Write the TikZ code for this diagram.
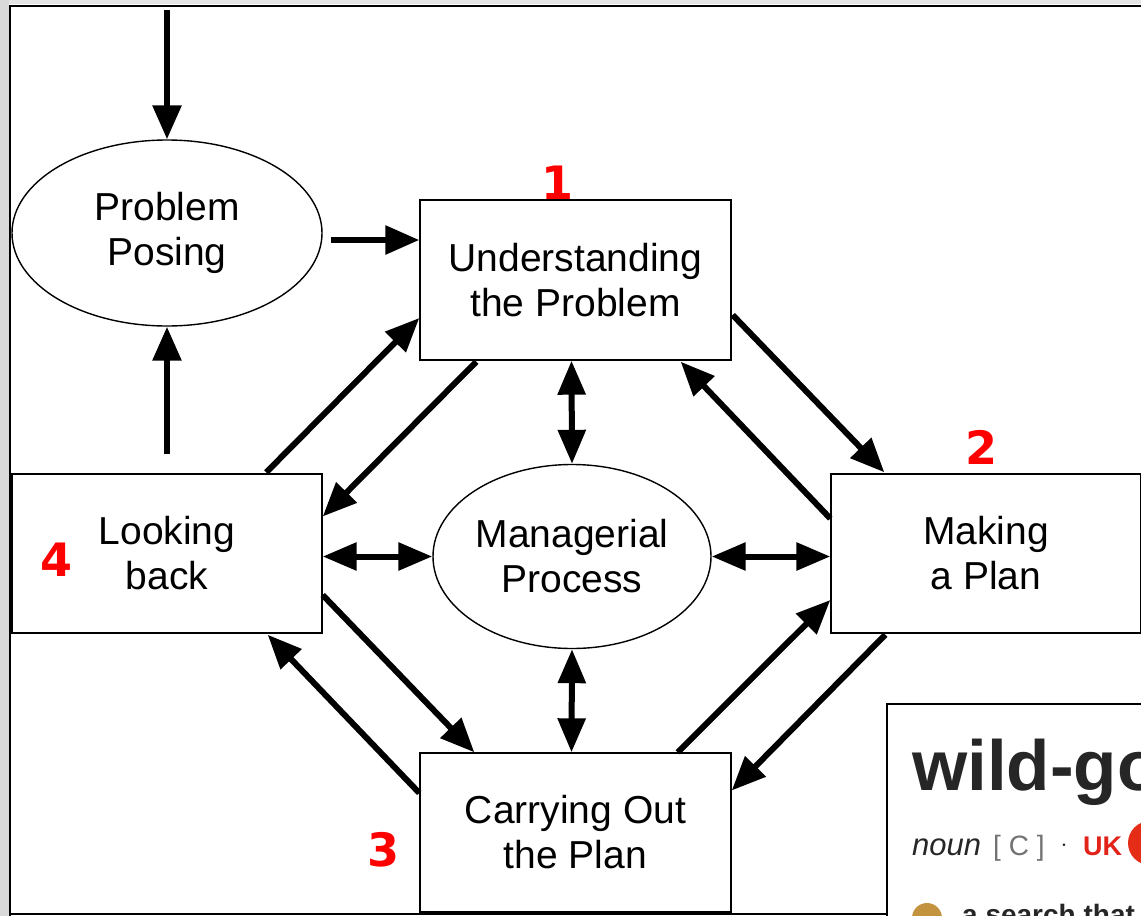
\documentclass[tikz,border=0pt]{standalone}
\usepackage{fontspec}
\setmainfont{Liberation Sans}
\newfontfamily\numfont{DejaVu Sans}
\usetikzlibrary{arrows.meta,shapes.geometric,calc}
\definecolor{ukred}{HTML}{E2231A}
\definecolor{dictgray}{HTML}{262626}
\definecolor{gold}{HTML}{C4933F}
\begin{document}
\begin{tikzpicture}[x=1pt,y=-1pt,
  lbl/.style={font=\fontsize{39}{45}\selectfont, align=center, text=black},
  stagebox/.style={lbl, draw, line width=1.4pt, rectangle, inner sep=0pt, minimum width=311pt, minimum height=160pt, fill=white},
  oval/.style={lbl, draw, line width=1.4pt, ellipse, inner sep=0pt},
  arr/.style={line width=6pt, -{Triangle[length=34pt,width=28pt]}},
  darr/.style={line width=6pt, {Triangle[length=34pt,width=27pt]}-{Triangle[length=34pt,width=27pt]}},
  num/.style={font=\numfont\bfseries\fontsize{46}{50}\selectfont, text=red, inner sep=0pt}
]
\useasboundingbox (0,0) rectangle (1141,916);
\begin{scope}
\clip (0,0) rectangle (1141,916);
\fill[white] (0,0) rectangle (1141,916);
\fill[black!10] (0,0) rectangle (1141,4);
\fill[black!15] (0,0) rectangle (9,916);
\draw[line width=2pt] (10,917) -- (10,5.5) -- (1145,5.5);
\draw[line width=2pt] (10,914) -- (890,914);

% nodes
\node[oval, minimum width=310pt, minimum height=186pt] (pp) at (167,233) {Problem\\Posing};
\node[oval, minimum width=278pt, minimum height=184pt] (mp) at (572,556.5) {Managerial\\Process};
\node[stagebox] (u) at (575.5,280) {Understanding\\the Problem};
\node[stagebox, minimum width=310pt, minimum height=159pt] (lb) at (167,553.5) {Looking\\back};
\node[stagebox, minimum width=310pt, minimum height=159pt] (mk) at (986,553.5) {Making\\a Plan};
\node[stagebox, minimum height=159pt] (c) at (575.5,832.5) {Carrying Out\\the Plan};

\node[num] (n1) at (557,183) {1};
\node[num] (n2) at (981,447) {2};
\node[num] (n3) at (383,850) {3};
\node[num] (n4) at (57,560) {4};

% connectors
\coordinate (topin) at (167,10);
\draw[arr] (topin) -- (pp.north);
\draw[arr] ($(lb.north)+(0,-19)$) -- (pp.south);
\draw[arr] ($(pp.east)+(8,7)$) -- ($(u.west)+(0,-40)$);
\draw[darr] ($(u.south)+(-4,0)$) -- (mp.north);
\draw[darr] (mp.south) -- ($(c.north)+(-4,0)$);
\draw[darr] ($(lb.east)+(0,3)$) -- (mp.west);
\draw[darr] (mp.east) -- ($(mk.west)+(0,3)$);
\draw[arr] ($(lb.north west)+(255,-1)$) -- ($(u.west)+(0,38)$);
\draw[arr] ($(u.south west)+(57,1)$) -- ($(lb.east)+(0,-37)$);
\draw[arr] ($(u.east)+(1,35)$) -- ($(mk.north west)+(54,-1)$);
\draw[arr] ($(mk.west)+(0,-35)$) -- ($(u.south east)+(-51,1)$);
\draw[arr] ($(mk.south west)+(55,1)$) -- ($(c.east)+(0,-42)$);
\draw[arr] ($(c.north east)+(-54,0)$) -- ($(mk.west)+(0,46.5)$);
\draw[arr] ($(lb.east)+(0,41.5)$) -- ($(c.north west)+(55,0)$);
\draw[arr] ($(c.west)+(0,-39.5)$) -- ($(lb.south east)+(-55,1)$);

% dictionary panel
\draw[line width=2pt, fill=white] (887,704) rectangle (1150,925);
\node[anchor=base west, inner sep=0pt, text=dictgray, font=\bfseries\fontsize{71}{80}\selectfont] (dw) at (912,790) {wild-go};
\node[anchor=base west, inner sep=0pt, text=dictgray, font=\itshape\fontsize{31}{36}\selectfont] (dn) at (912,855) {noun};
\node[anchor=base west, inner sep=0pt, text=black!55, font=\fontsize{28}{32}\selectfont] (dc) at (993,855) {[ C ]};
\node[inner sep=0pt, text=dictgray, font=\bfseries\fontsize{34}{36}\selectfont] (dd) at (1064,846) {$\cdot$};
\node[anchor=base west, inner sep=0pt, text=ukred, font=\bfseries\fontsize{27}{32}\selectfont] (duk) at (1083,855) {UK};
\fill[ukred!90!orange] (1150,843) circle (22);
\fill[gold] (927,918) circle (15);
\node[anchor=base west, inner sep=0pt, text=dictgray, font=\bfseries\fontsize{28}{32}\selectfont] (ds) at (962,924) {a search that};
\end{scope}
\end{tikzpicture}
\end{document}
